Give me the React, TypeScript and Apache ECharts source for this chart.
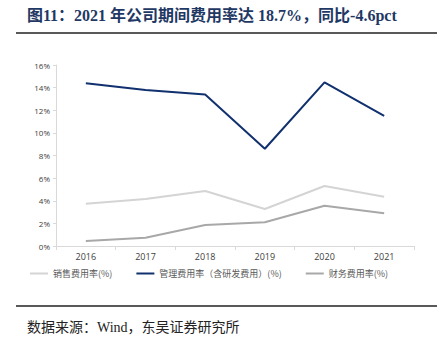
import React, { useEffect, useRef } from "react";
import * as echarts from "echarts";

const years = ["2016", "2017", "2018", "2019", "2020", "2021"];
const salesRate = [3.74, 4.15, 4.86, 3.27, 5.3, 4.36];
const mgmtRate = [14.38, 13.79, 13.4, 8.6, 14.47, 11.5];
const finRate = [0.44, 0.73, 1.86, 2.1, 3.56, 2.89];
const seriesNames = ["销售费用率(%)", "管理费用率（含研发费用）(%)", "财务费用率(%)"];
const titleText = "图11：2021 年公司期间费用率达 18.7%，同比-4.6pct";
const sourceText = "数据来源：Wind，东吴证券研究所";

export default function App() {
  const ref = useRef<HTMLDivElement>(null);
  useEffect(() => {
    const chart = echarts.init(ref.current!, null, { renderer: "svg" });
    const serif = "'Liberation Serif', 'Times New Roman', 'Noto Sans CJK SC', serif";
    chart.setOption({
      animation: false,
      backgroundColor: "#fff",
      grid: { left: 56, right: 29, top: 65, bottom: 99 },
      legend: {
        left: 25,
        top: 264,
        icon: "rect",
        itemWidth: 18,
        itemHeight: 2,
        itemGap: 24,
        textStyle: { fontSize: 9, color: "#595959", fontFamily: "'Noto Sans CJK SC', sans-serif" },
        data: seriesNames,
      },
      xAxis: {
        type: "category",
        data: years,
        boundaryGap: true,
        axisLine: { lineStyle: { color: "#d9d9d9" } },
        axisTick: { show: true, length: 4, lineStyle: { color: "#d9d9d9" } },
        axisLabel: { fontSize: 9, color: "#404040", margin: 6, fontFamily: "'Open Sans', sans-serif" },
      },
      yAxis: {
        type: "value",
        min: 0,
        max: 16,
        interval: 2,
        axisLine: { show: true, lineStyle: { color: "#d9d9d9" } },
        axisTick: { show: true, length: 3, lineStyle: { color: "#d9d9d9" } },
        splitLine: { show: false },
        axisLabel: { formatter: "{value}%", fontSize: 8, color: "#404040", margin: 6, fontFamily: "'Open Sans', sans-serif" },
      },
      series: [
        { name: seriesNames[0], type: "line", data: salesRate, symbol: "none", lineStyle: { width: 2, color: "#d4d4d4" }, itemStyle: { color: "#d4d4d4" } },
        { name: seriesNames[1], type: "line", data: mgmtRate, symbol: "none", lineStyle: { width: 2, color: "#10306e" }, itemStyle: { color: "#10306e" } },
        { name: seriesNames[2], type: "line", data: finRate, symbol: "none", lineStyle: { width: 2, color: "#a8a8a8" }, itemStyle: { color: "#a8a8a8" } },
      ],
      graphic: [
        { type: "text", left: 27, top: 7, style: { text: titleText, fontSize: 16, fontWeight: "bold", fill: "#1f3864", fontFamily: serif } },
        { type: "line", shape: { x1: 16, y1: 33, x2: 437, y2: 33 }, style: { stroke: "#222", lineWidth: 1.5 } },
        { type: "line", shape: { x1: 16, y1: 306, x2: 437, y2: 306 }, style: { stroke: "#222", lineWidth: 1.5 } },
        { type: "text", left: 27, top: 320, style: { text: sourceText, fontSize: 14, fill: "#222", fontFamily: serif } },
      ],
    });
    return () => chart.dispose();
  }, []);
  return <div ref={ref} style={{ width: 443, height: 345, position: "absolute", left: 0, top: 0 }} />;
}
